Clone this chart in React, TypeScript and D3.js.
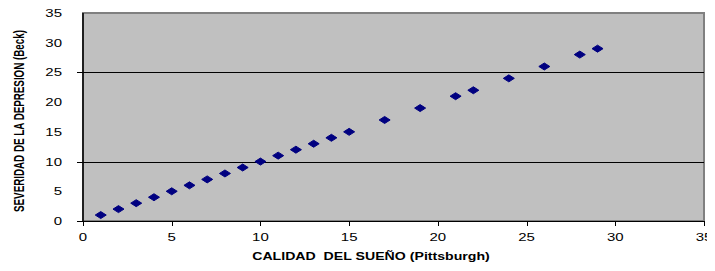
import { useEffect, useRef } from 'react'
import * as d3 from 'd3'

// Calidad del sueño (Pittsburgh) vs severidad de la depresión (Beck)
const xValues = [1, 2, 3, 4, 5, 6, 7, 8, 9, 10, 11, 12, 13, 14, 15, 17, 19, 21, 22, 24, 26, 28, 29]
const yValues = [1, 2, 3, 4, 5, 6, 7, 8, 9, 10, 11, 12, 13, 14, 15, 17, 19, 21, 22, 24, 26, 28, 29]
const xTicks = [0, 5, 10, 15, 20, 25, 30, 35]
const yTicks = [0, 5, 10, 15, 20, 25, 30, 35]
const yGrid = [10, 25]
const xTitle = 'CALIDAD  DEL SUEÑO (Pittsburgh)'
const yTitle = 'SEVERIDAD DE LA DEPRESION (Beck)'

export default function App() {
  const svgRef = useRef<SVGSVGElement>(null)

  useEffect(() => {
    if (!svgRef.current) return
    const width = 715
    const height = 271
    const margin = { top: 13, right: 11, bottom: 50, left: 83 }
    const innerW = width - margin.left - margin.right
    const innerH = height - margin.top - margin.bottom

    const svg = d3.select(svgRef.current)
    svg.selectAll('*').remove()
    svg.attr('width', width).attr('height', height)

    const g = svg.append('g').attr('transform', `translate(${margin.left},${margin.top})`)

    const xScale = d3.scaleLinear().domain([0, 35]).range([0, innerW])
    const yScale = d3.scaleLinear().domain([0, 35]).range([innerH, 0])

    // Plot area
    g.append('rect')
      .attr('width', innerW)
      .attr('height', innerH)
      .attr('fill', '#c0c0c0')
      .attr('stroke', '#808080')
      .attr('stroke-width', 2)

    // Grid lines (only at 10 and 25)
    g.selectAll('line.grid')
      .data(yGrid)
      .enter().append('line')
      .attr('class', 'grid')
      .attr('x1', -6)
      .attr('x2', innerW)
      .attr('y1', d => Math.round(yScale(d)) + 0.5)
      .attr('y2', d => Math.round(yScale(d)) + 0.5)
      .attr('stroke', '#000')
      .attr('stroke-width', 1)

    // Axes lines
    g.append('line')
      .attr('x1', 0).attr('x2', 0)
      .attr('y1', 0).attr('y2', innerH)
      .attr('stroke', '#000').attr('stroke-width', 1.5)
    g.append('line')
      .attr('x1', -6).attr('x2', innerW)
      .attr('y1', innerH + 0.5).attr('y2', innerH + 0.5)
      .attr('stroke', '#000').attr('stroke-width', 1)

    // X ticks
    g.selectAll('line.xtick')
      .data(xTicks)
      .enter().append('line')
      .attr('class', 'xtick')
      .attr('x1', d => Math.round(xScale(d)) + 0.5)
      .attr('x2', d => Math.round(xScale(d)) + 0.5)
      .attr('y1', innerH)
      .attr('y2', innerH + 5)
      .attr('stroke', '#000')

    const font = 'Liberation Sans, Arial, sans-serif'

    g.selectAll('text.xlab')
      .data(xTicks)
      .enter().append('text')
      .attr('class', 'xlab')
      .attr('transform', d => `translate(${xScale(d)},${innerH + 20}) scale(1.5,1)`)
      .attr('text-anchor', 'middle')
      .attr('font-family', font)
      .attr('font-size', '10px')
      .attr('fill', '#000')
      .text(d => d)

    g.selectAll('text.ylab')
      .data(yTicks)
      .enter().append('text')
      .attr('class', 'ylab')
      .attr('transform', d => `translate(-21,${yScale(d) + 4}) scale(1.5,1)`)
      .attr('text-anchor', 'end')
      .attr('font-family', font)
      .attr('font-size', '10px')
      .attr('fill', '#000')
      .text(d => d)

    // Points (flattened diamonds)
    const diamond = 'M-5.5,0 L0,-3.5 L5.5,0 L0,3.5 Z'
    g.selectAll('path.pt')
      .data(xValues.map((x, i) => ({ x, y: yValues[i] })))
      .enter().append('path')
      .attr('class', 'pt')
      .attr('d', diamond)
      .attr('transform', d => `translate(${xScale(d.x)},${yScale(d.y)})`)
      .attr('fill', '#000080')
      .attr('stroke', '#000080')
      .attr('stroke-width', 1)

    // Axis titles, squeezed/stretched to the reference's widths
    const xt = svg.append('text')
      .attr('text-anchor', 'middle')
      .attr('font-family', font)
      .attr('font-weight', 'bold')
      .attr('font-size', '11px')
      .style('white-space', 'pre')
      .text(xTitle)
    const xLen = (xt.node() as SVGTextElement).getComputedTextLength() || 238
    xt.attr('transform', `translate(371,260) scale(${238 / xLen},1)`)

    const yt = svg.append('text')
      .attr('text-anchor', 'middle')
      .attr('font-family', 'Liberation Sans Narrow, Liberation Sans, Arial, sans-serif')
      .attr('font-weight', 'bold')
      .attr('font-size', '14px')
      .text(yTitle)
    const yLen = (yt.node() as SVGTextElement).getComputedTextLength() || 182
    yt.attr('transform', `translate(24,121) rotate(-90) scale(${182 / yLen},1)`)
  }, [])

  return (
    <div style={{ margin: -8 }}>
      <svg ref={svgRef} style={{ display: 'block', background: '#fff' }} />
    </div>
  )
}
